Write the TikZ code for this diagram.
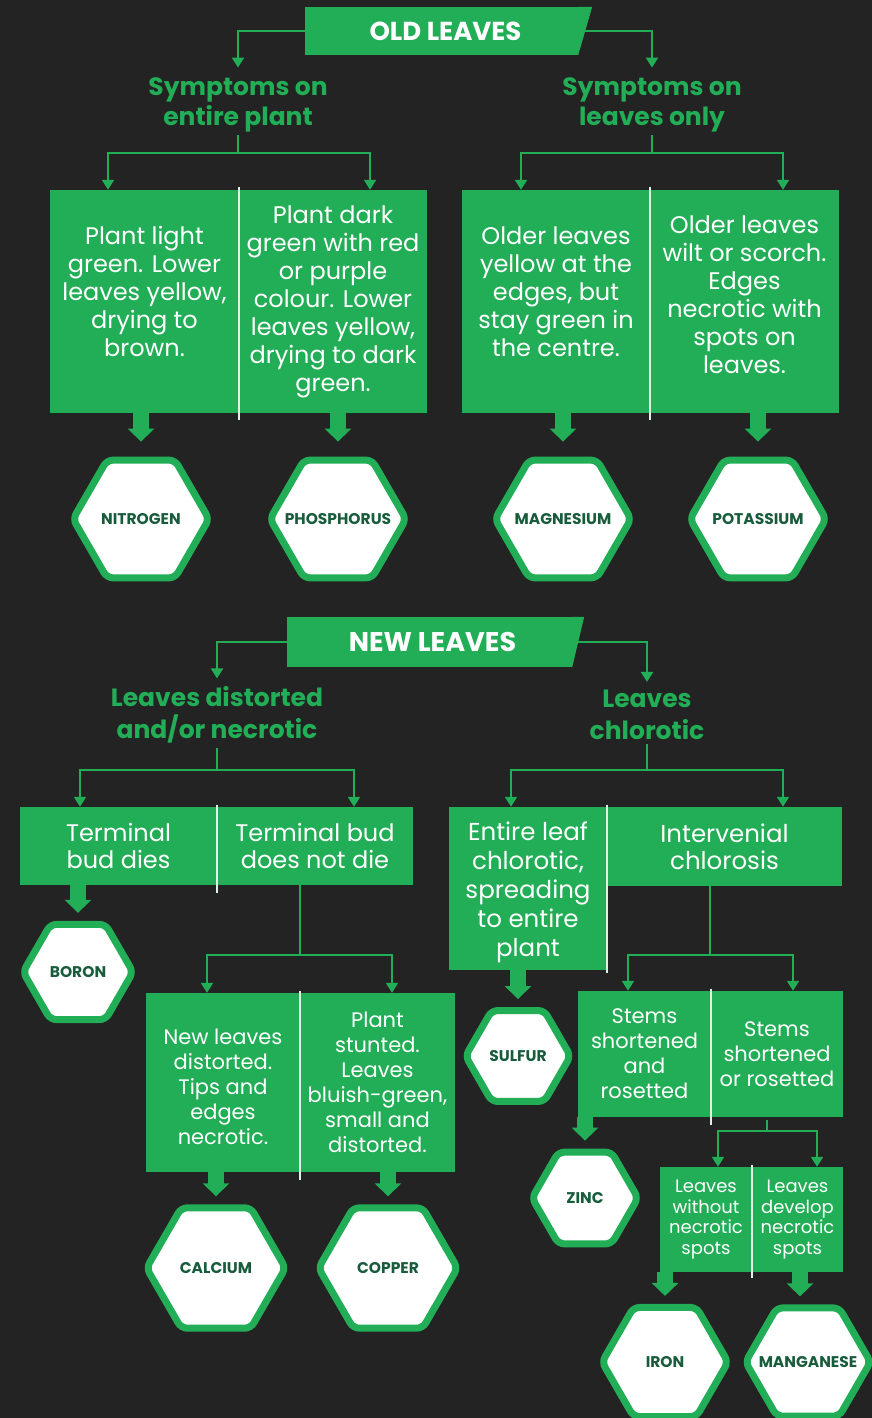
\documentclass[tikz,border=0pt]{standalone}
\usepackage{fontspec}
\setmainfont{Poppins}
\usetikzlibrary{positioning,shapes.geometric,arrows.meta}
\definecolor{leafgreen}{RGB}{34,174,86}
\definecolor{board}{RGB}{35,35,35}
\definecolor{hexink}{RGB}{24,92,60}
\tikzset{
  cell/.style={fill=leafgreen,text=white,align=center,inner sep=0pt},
  banner/.style={fill=leafgreen,text=white,inner sep=0pt},
  head/.style={text=leafgreen,align=center,inner sep=0pt,font=\bfseries\fontsize{25}{30}\selectfont},
  hexa/.style={regular polygon,regular polygon sides=6,draw=leafgreen,line width=7pt,fill=white,
    rounded corners=6pt,inner sep=0pt},
  hexlbl/.style={text=hexink,inner sep=0pt,font=\bfseries\fontsize{15.5}{15.5}\selectfont},
  link/.style={leafgreen,line width=2pt,-{Triangle[width=12pt,length=10pt]}},
  stem/.style={leafgreen,line width=2pt},
  fat/.style={leafgreen,line width=16pt,-{Triangle[width=26pt,length=13pt]}},
  divider/.style={white!85!leafgreen,line width=2.5pt}
}

\begin{document}
\begin{tikzpicture}[x=1pt,y=-1pt]
\useasboundingbox (0,0) rectangle (872,1418);
\fill[board] (0,0) rectangle (872,1418);

\node[banner,minimum width=273pt,minimum height=48pt,font=\bfseries\fontsize{26}{28}\selectfont] (old) at (441.5,31) {\hspace*{8pt}OLD LEAVES};
\fill[leafgreen] (old.north east) -- ++(14,0) -- (old.south east) -- cycle;
\node[head] (sym1) at (238,105) {Symptoms on\\entire plant};
\node[head] (sym2) at (652,105) {Symptoms on\\leaves only};
\coordinate (j1) at (238,153);
\coordinate (j2) at (652,153);

\node[cell,minimum width=189pt,minimum height=223pt,text depth=20pt,font=\fontsize{24}{28}\selectfont] (plight) at (144.5,301.5) {Plant light\\green. Lower\\leaves yellow,\\drying to\\brown.};
\node[cell,minimum width=188pt,minimum height=223pt,font=\fontsize{24}{28}\selectfont] (pdark) at (333,301.5) {Plant dark\\green with red\\or purple\\colour. Lower\\leaves yellow,\\drying to dark\\green.};
\node[cell,minimum width=188pt,minimum height=223pt,text depth=20pt,font=\fontsize{24}{28}\selectfont] (mold) at (556,301.5) {Older leaves\\yellow at the\\edges, but\\stay green in\\the centre.};
\node[cell,minimum width=189pt,minimum height=223pt,text depth=14pt,font=\fontsize{24}{28}\selectfont] (kold) at (744.5,301.5) {Older leaves\\wilt or scorch.\\Edges\\necrotic with\\spots on\\leaves.};

\node[hexa,minimum size=136pt,label={[hexlbl]center:NITROGEN}] (nitro) at (141,519) {};
\node[hexa,minimum size=136pt,label={[hexlbl]center:PHOSPHORUS}] (phos) at (338,519) {};
\node[hexa,minimum size=136pt,label={[hexlbl]center:MAGNESIUM}] (magn) at (563,519) {};
\node[hexa,minimum size=136pt,label={[hexlbl]center:POTASSIUM}] (pota) at (758,519) {};

\node[banner,minimum width=285pt,minimum height=50pt,font=\bfseries\fontsize{27}{28}\selectfont] (new) at (429.5,642) {\hspace*{6pt}NEW LEAVES};
\fill[leafgreen] (new.north east) -- ++(12,0) -- (new.south east) -- cycle;
\node[head,font=\bfseries\fontsize{25}{32}\selectfont] (dist) at (217,715) {Leaves distorted\\and/or necrotic};
\node[head,font=\bfseries\fontsize{25}{32}\selectfont] (chlor) at (647,715) {Leaves\\chlorotic};
\coordinate (j3) at (217,770);
\coordinate (j4) at (647,770);

\node[cell,minimum width=197pt,minimum height=78pt,font=\fontsize{24}{27}\selectfont] (tdies) at (118.5,846) {Terminal\\bud dies};
\node[cell,minimum width=196pt,minimum height=78pt,font=\fontsize{24}{27}\selectfont] (tnot) at (315,846) {Terminal bud\\does not die};
\node[cell,minimum width=158pt,minimum height=163pt,font=\fontsize{24.5}{29}\selectfont] (entire) at (528,888.5) {\rule{0pt}{26pt}Entire leaf\\chlorotic,\\spreading\\to entire\\plant};
\node[cell,minimum width=235pt,minimum height=79pt,font=\fontsize{24.5}{27}\selectfont] (inter) at (724.5,846.5) {Intervenial\\chlorosis};

\node[hexa,minimum size=110pt,label={[hexlbl]center:BORON}] (boron) at (78,972) {};
\coordinate (j5) at (300,955);
\node[cell,minimum width=154pt,minimum height=179pt,font=\fontsize{21}{25}\selectfont] (newl) at (223,1082.5) {\rule{0pt}{25pt}New leaves\\distorted.\\Tips and\\edges\\necrotic.};
\node[cell,minimum width=155pt,minimum height=179pt,font=\fontsize{21}{25}\selectfont] (stunt) at (377.5,1082.5) {Plant\\stunted.\\Leaves\\bluish-green,\\small and\\distorted.};
\node[hexa,minimum size=139pt,label={[hexlbl]center:CALCIUM}] (calc) at (216,1268) {};
\node[hexa,minimum size=139pt,label={[hexlbl]center:COPPER}] (copp) at (388,1268) {};

\node[hexa,minimum size=105pt,label={[hexlbl]center:SULFUR}] (sulf) at (518,1056) {};
\coordinate (j6) at (710,955);
\node[cell,minimum width=133pt,minimum height=126pt,font=\fontsize{21}{25}\selectfont] (sand) at (644.5,1054) {Stems\\shortened\\and\\rosetted};
\node[cell,minimum width=132pt,minimum height=126pt,font=\fontsize{21}{25}\selectfont] (sor) at (777,1054) {Stems\\shortened\\or rosetted};
\node[hexa,minimum size=106pt,label={[hexlbl]center:ZINC}] (zinc) at (585,1198) {};
\coordinate (j7) at (767,1131);
\node[cell,minimum width=92pt,minimum height=105pt,font=\fontsize{18}{20.5}\selectfont] (nowo) at (706,1219.5) {Leaves\\without\\necrotic\\spots};
\node[cell,minimum width=91pt,minimum height=105pt,font=\fontsize{18}{20.5}\selectfont] (dev) at (797.5,1219.5) {Leaves\\develop\\necrotic\\spots};
\node[hexa,minimum size=126pt,label={[hexlbl]center:IRON}] (iron) at (665,1362) {};
\node[hexa,minimum size=125pt,label={[hexlbl]center:MANGANESE}] (mang) at (808,1362) {};

\draw[link,shorten >=10pt] (old.west) -| (sym1.north);
\draw[link,shorten >=10pt] (old.east) -| (sym2.north);
\draw[stem,shorten <=3pt] (sym1.south) -- (j1);
\draw[stem,shorten <=3pt] (sym2.south) -- (j2);
\draw[link] (j1) -| ([xshift=-36.5pt]plight.north);
\draw[link] (j1) -| ([xshift=37pt]pdark.north);
\draw[link] (j2) -| ([xshift=-35pt]mold.north);
\draw[link] (j2) -| ([xshift=38.5pt]kold.north);
\draw[divider] ([yshift=3pt]plight.north east) -- ([yshift=-7pt]plight.south east);
\draw[divider] ([yshift=3pt]mold.north east) -- ([yshift=-7pt]mold.south east);
\draw[fat,shorten >=15pt] (plight.south -| nitro.north) -- (nitro.north);
\draw[fat,shorten >=15pt] (pdark.south -| phos.north) -- (phos.north);
\draw[fat,shorten >=15pt] (mold.south -| magn.north) -- (magn.north);
\draw[fat,shorten >=15pt] (kold.south -| pota.north) -- (pota.north);

\draw[link,shorten >=8pt] (new.west) -| (dist.north);
\draw[link,shorten >=8pt] (new.east) -| (chlor.north);
\draw[stem,shorten <=4pt] (dist.south) -- (j3);
\draw[stem,shorten <=4pt] (chlor.south) -- (j4);
\draw[link] (j3) -| ([xshift=-38.5pt]tdies.north);
\draw[link] (j3) -| ([xshift=39pt]tnot.north);
\draw[link] (j4) -| ([xshift=-17pt]entire.north);
\draw[link] (j4) -| ([xshift=58.5pt]inter.north);
\draw[divider] ([yshift=2pt]tdies.north east) -- ([yshift=-8pt]tdies.south east);
\draw[divider] ([yshift=2pt]entire.north east) -- ([yshift=-3pt]entire.south east);
\draw[fat,shorten >=8pt] (tdies.south -| boron.north) -- (boron.north);
\draw[fat,shorten >=8pt] (entire.south -| sulf.north) -- (sulf.north);

\draw[stem] ([xshift=-15pt]tnot.south) -- (j5);
\draw[link] (j5) -| ([xshift=-16pt]newl.north);
\draw[link] (j5) -| ([xshift=14.5pt]stunt.north);
\draw[divider] ([yshift=2pt]newl.north east) -- ([yshift=-8pt]newl.south east);
\draw[fat,shorten >=8pt] (newl.south -| calc.north) -- (calc.north);
\draw[fat,shorten >=8pt] (stunt.south -| copp.north) -- (copp.north);

\draw[stem] ([xshift=-14.5pt]inter.south) -- (j6);
\draw[link] (j6) -| ([xshift=-16.5pt]sand.north);
\draw[link] (j6) -| ([xshift=16pt]sor.north);
\draw[divider] ([yshift=2pt]sand.north east) -- ([yshift=-8pt]sand.south east);
\draw[fat,shorten >=8pt] (sand.south -| zinc.north) -- (zinc.north);

\draw[stem,shorten <=3pt] ([xshift=-10pt]sor.south) -- (j7);
\draw[link] (j7) -| ([xshift=12pt]nowo.north);
\draw[link] (j7) -| ([xshift=19.5pt]dev.north);
\draw[divider] ([yshift=2pt]nowo.north east) -- ([yshift=-6pt]nowo.south east);
\draw[fat,shorten >=8pt] (nowo.south -| iron.north) -- (iron.north);
\draw[fat,shorten >=8pt] ([xshift=2.5pt]dev.south) -- ([xshift=2.5pt]dev.south |- mang.north);
\end{tikzpicture}
\end{document}
